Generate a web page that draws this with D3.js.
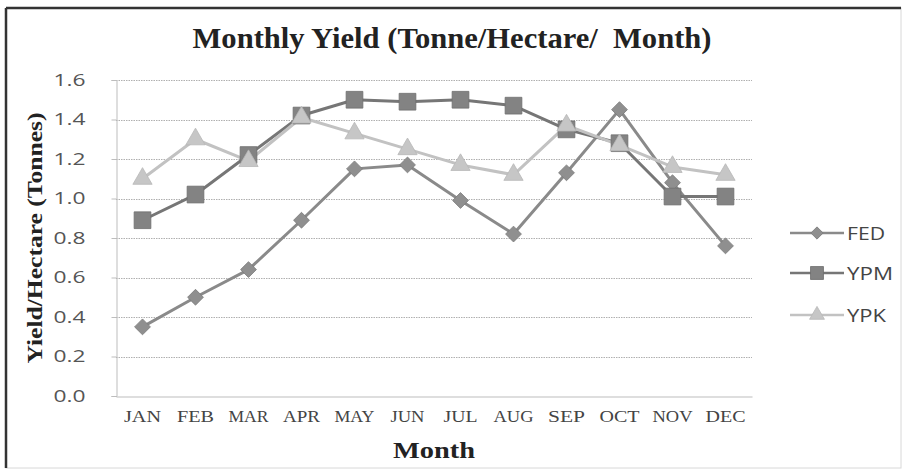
<!DOCTYPE html>
<html><head><meta charset="utf-8">
<script src="https://cdn.jsdelivr.net/npm/d3@7"></script>
<style>
html,body{margin:0;padding:0;background:#fff;}
svg{display:block;}
</style></head>
<body>
<svg id="chart" width="903" height="470"></svg>
<script>
const months = ["JAN","FEB","MAR","APR","MAY","JUN","JUL","AUG","SEP","OCT","NOV","DEC"];
const fed = [0.35,0.50,0.64,0.89,1.15,1.17,0.99,0.82,1.13,1.45,1.08,0.76];
const ypm = [0.89,1.02,1.22,1.42,1.50,1.49,1.50,1.47,1.35,1.28,1.01,1.01];
const ypk = [1.10,1.30,1.19,1.41,1.33,1.25,1.17,1.12,1.37,1.27,1.16,1.12];
const seriesNames = ["FED","YPM","YPK"];
const yTicks = [0,0.2,0.4,0.6,0.8,1.0,1.2,1.4,1.6];

const series = [
  {name: seriesNames[0], values: fed, line: "#8a8a8a", fill: "#8f8f8f", stroke:"#7a7a7a", shape: d3.symbolDiamond2, size: 160, legW: 38},
  {name: seriesNames[1], values: ypm, line: "#767676", fill: "#838383", stroke:"#6e6e6e", shape: d3.symbolSquare, size: 280, legW: 46},
  {name: seriesNames[2], values: ypk, line: "#c2c2c2", fill: "#c6c6c6", stroke:"#b8b8b8", shape: d3.symbolTriangle, size: 160, legW: 39}
];

const svg = d3.select("#chart");
const W = 903, H = 470;
const m = {left:116, right:752, top:80, bottom:396};

// frame
svg.append("rect").attr("x",6).attr("y",8).attr("width",W-6-2).attr("height",H-8-2)
  .attr("fill","#fff").attr("stroke","#d8d8d8").attr("stroke-width",1);
svg.append("line").attr("x1",6).attr("x2",W-2).attr("y1",8).attr("y2",8).attr("stroke","#333").attr("stroke-width",2.5);
svg.append("line").attr("x1",6).attr("x2",6).attr("y1",8).attr("y2",H-2).attr("stroke","#333").attr("stroke-width",2.5);

const x = d3.scaleBand().domain(months).range([m.left, m.right]);
const y = d3.scaleLinear().domain([0,1.6]).range([m.bottom, m.top]);

// gridlines
svg.append("g").selectAll("line").data(yTicks.filter(t=>t>0)).join("line")
  .attr("x1",m.left).attr("x2",m.right)
  .attr("y1",d=>Math.round(y(d))+0.5).attr("y2",d=>Math.round(y(d))+0.5)
  .attr("stroke","#b0b0b0").attr("stroke-width",1).attr("stroke-dasharray","1.5,1");

// y axis
const yAxis = d3.axisLeft(y).tickValues(yTicks).tickFormat(d3.format(".1f")).tickSize(5).tickPadding(26);
const gy = svg.append("g").attr("transform",`translate(${m.left+0.5},0)`).call(yAxis);
gy.select(".domain").attr("stroke","#bdbdbd");
gy.selectAll(".tick line").attr("stroke","#bdbdbd");
gy.selectAll("text").attr("fill","#555").style("font-family","'Open Sans', 'Liberation Sans', sans-serif").style("font-size","17px")
  .attr("textLength",32).attr("lengthAdjust","spacingAndGlyphs");

// x axis
const xAxis = d3.axisBottom(x).tickSize(0).tickPadding(14);
const gx = svg.append("g").attr("transform",`translate(0,${m.bottom+0.5})`).call(xAxis);
gx.select(".domain").attr("stroke","#bdbdbd").attr("stroke-width",1.2);
gx.selectAll("text").attr("fill","#444").style("font-family","'Liberation Serif', serif").style("font-size","16.5px")
  .attr("textLength",d=>(d==="MAY"||d==="MAR"||d==="NOV"||d==="AUG"||d==="OCT"||d==="DEC") ? 40 : (d==="JUN"||d==="JUL" ? 34 : 37))
  .attr("lengthAdjust","spacingAndGlyphs");

// lines
const line = d3.line().x((d,i)=>x(months[i])+x.bandwidth()/2).y(d=>y(d));
series.forEach(s=>{
  svg.append("path").datum(s.values).attr("d",line).attr("fill","none")
    .attr("stroke",s.line).attr("stroke-width",3).attr("stroke-linejoin","round");
});
series.forEach(s=>{
  svg.append("g").selectAll("path").data(s.values).join("path")
    .attr("transform",(d,i)=>`translate(${x(months[i])+x.bandwidth()/2},${y(d)})`)
    .attr("d",d3.symbol().type(s.shape).size(s.size))
    .attr("fill",s.fill).attr("stroke",s.stroke).attr("stroke-width",0.8);
});

// title
svg.append("text").attr("x",452).attr("y",48).attr("text-anchor","middle")
  .style("font-family","'Liberation Serif', serif").style("font-weight","bold").style("font-size","30px")
  .attr("fill","#222").attr("xml:space","preserve")
  .attr("textLength",519).attr("lengthAdjust","spacingAndGlyphs")
  .text("Monthly Yield (Tonne/Hectare/  Month)");

// axis titles
svg.append("text").attr("transform","translate(42,238) rotate(-90)").attr("text-anchor","middle")
  .style("font-family","'Liberation Serif', serif").style("font-weight","bold").style("font-size","22px")
  .attr("fill","#222").attr("textLength",251).attr("lengthAdjust","spacingAndGlyphs")
  .text("Yield/Hectare (Tonnes)");
svg.append("text").attr("x",434).attr("y",458).attr("text-anchor","middle")
  .style("font-family","'Liberation Serif', serif").style("font-weight","bold").style("font-size","24px")
  .attr("fill","#222").attr("textLength",82).attr("lengthAdjust","spacingAndGlyphs")
  .text("Month");

// legend
const legY = [233,273,315];
series.forEach((s,i)=>{
  const g = svg.append("g").attr("transform",`translate(790,${legY[i]})`);
  g.append("line").attr("x1",0).attr("x2",54).attr("y1",0).attr("y2",0).attr("stroke",s.line).attr("stroke-width",2.5);
  g.append("path").attr("transform","translate(27,0)").attr("d",d3.symbol().type(s.shape).size(s.size*0.6))
    .attr("fill",s.fill).attr("stroke",s.stroke).attr("stroke-width",0.8);
  g.append("text").attr("x",57).attr("y",6.5).attr("fill","#444")
    .style("font-family","'Open Sans', 'Liberation Sans', sans-serif").style("font-size","18px")
    .attr("textLength",s.legW).attr("lengthAdjust","spacingAndGlyphs").text(s.name);
});
</script>
</body></html>
